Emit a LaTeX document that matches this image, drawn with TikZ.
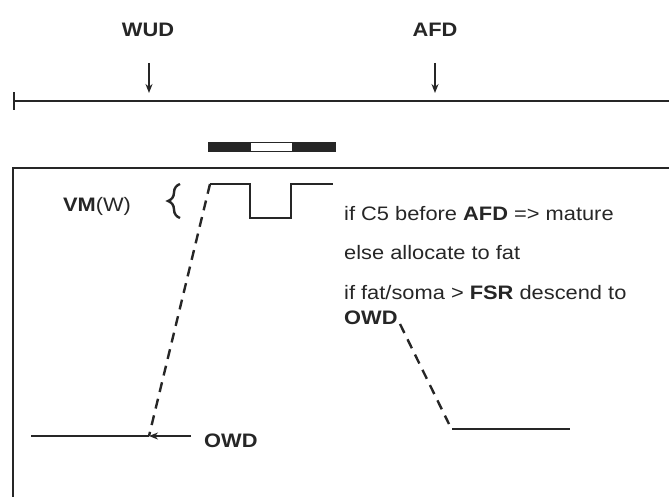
\documentclass[tikz,border=0pt]{standalone}
\usepackage{fontspec}
\setmainfont{Liberation Sans}[FakeStretch=1.12]
\usetikzlibrary{arrows.meta,decorations.pathreplacing}

\begin{document}
\begin{tikzpicture}[x=1pt, y=-1pt, line width=2.4pt, color={black!85},
		lbl/.style={font=\fontsize{19.5}{22}\selectfont, inner sep=0pt},
		arr/.style={-{Stealth[length=9pt,width=7pt]}, line width=1.8pt},
		dsh/.style={dash pattern=on 10pt off 7pt}]
		\useasboundingbox (0,0) rectangle (669,497);

		\coordinate (T0) at (13,101);
		\coordinate (T1) at (669,101);
		\draw[{Bar[width=18pt]}-] (T0) -- (T1);

		\node[lbl] (WUD) at (148,30) {\textbf{WUD}};
		\node[lbl] (AFD) at (435,30) {\textbf{AFD}};
		\coordinate (W1) at (149,63);
		\coordinate (W2) at (149,93);
		\coordinate (A1) at (435,63);
		\coordinate (A2) at (435,93);
		\draw[arr] (W1) -- (W2);
		\draw[arr] (A1) -- (A2);

		\fill (208,143) rectangle (251,152);
		\fill (292,143) rectangle (335,152);
		\draw[line width=1pt] (208,143) rectangle (335,152);

		\coordinate (B0) at (669,168);
		\coordinate (B1) at (13,168);
		\coordinate (B2) at (13,497);
		\draw (B0) -- (B1) -- (B2);

		\coordinate (S0) at (210,184);
		\coordinate (S1) at (250,184);
		\coordinate (S2) at (250,218);
		\coordinate (S3) at (291,218);
		\coordinate (S4) at (291,184);
		\coordinate (S5) at (333,184);
		\draw (S0) -- (S1) -- (S2) -- (S3) -- (S4) -- (S5);

		\node[lbl] (VM) at (97,206) {\textbf{VM}(W)};
		\draw[decorate, decoration={brace, amplitude=12pt}] (180,218) -- (180,184);

		\coordinate (L0) at (31,436);
		\coordinate (L1) at (149,436);
		\coordinate (L2) at (191,436);
		\draw (L0) -- (L1);
		\draw[arr] (L2) -- (L1);
		\draw[dsh] (S0) -- (L1);
		\node[lbl, anchor=west] (OWDa) at (203,441) {\textbf{OWD}};

		\node[lbl, anchor=west] (R1) at (343,214) {if C5 before \textbf{AFD} => mature};
		\node[lbl, anchor=west] (R2) at (343,253) {else allocate to fat};
		\node[lbl, anchor=west] (R3) at (343,293) {if fat/soma > \textbf{FSR} descend to};
		\node[lbl, anchor=west] (R4) at (343,318) {\textbf{OWD}};

		\coordinate (D0) at (400,324);
		\coordinate (D1) at (449,424);
		\coordinate (E0) at (452,429);
		\coordinate (E1) at (570,429);
		\draw[dsh] (D0) -- (D1);
		\draw (E0) -- (E1);
	\end{tikzpicture}
\end{document}
